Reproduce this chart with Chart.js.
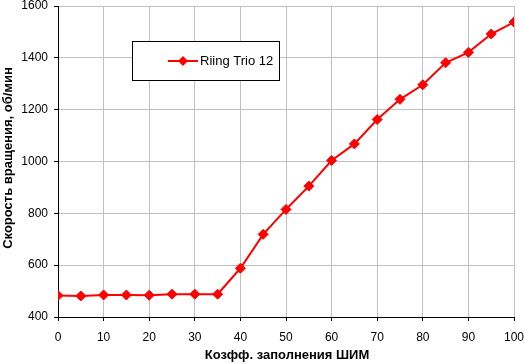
<!DOCTYPE html>
<html>
<head>
<meta charset="utf-8">
<script src="https://cdn.jsdelivr.net/npm/chart.js@4/dist/chart.umd.min.js"></script>
<style>
  html, body { margin: 0; padding: 0; background: #fff; }
  #wrap { width: 524px; height: 364px; }
</style>
</head>
<body>
<div id="wrap"><canvas id="c" width="524" height="364"></canvas></div>
<script>
// PWM duty (%) and fan speed (rpm)
const duty = [0, 5, 10, 15, 20, 25, 30, 35, 40, 45, 50, 55, 60, 65, 70, 75, 80, 85, 90, 95, 100];
const rpm = [483, 481, 485, 485, 484, 488, 488, 488, 588, 719, 815, 905, 1004, 1068, 1162, 1240, 1296, 1381, 1421, 1492, 1538];
const seriesName = "Riing Trio 12";
const xTitle = "Козфф. заполнения ШИМ";
const yTitle = "Скорость вращения, об/мин";

const red = "#ff0000";
const tickFont = { family: "Liberation Sans, Arial", size: 12 };

const points = duty.map((d, i) => ({ x: d, y: rpm[i] }));

// titles and the legend box are drawn by hand, like in the excel chart
const extras = {
  id: "extras",
  afterDraw(chart) {
    const ctx = chart.ctx;
    ctx.save();
    ctx.fillStyle = "#000";
    ctx.font = "bold 13px Liberation Sans, Arial";
    ctx.textAlign = "center";
    ctx.textBaseline = "alphabetic";
    ctx.fillText(xTitle, 287, 359);

    ctx.translate(12, 158);
    ctx.rotate(-Math.PI / 2);
    ctx.fillText(yTitle, 0, 0);
    ctx.restore();

    // legend
    ctx.save();
    ctx.fillStyle = "#fff";
    ctx.fillRect(132.5, 41.5, 147, 39);
    ctx.strokeStyle = "#000";
    ctx.lineWidth = 1;
    ctx.strokeRect(132.5, 41.5, 147, 39);
    ctx.strokeStyle = red;
    ctx.lineWidth = 2;
    ctx.beginPath();
    ctx.moveTo(168, 61);
    ctx.lineTo(198, 61);
    ctx.stroke();
    ctx.fillStyle = red;
    ctx.beginPath();
    ctx.moveTo(183, 56);
    ctx.lineTo(188, 61);
    ctx.lineTo(183, 66);
    ctx.lineTo(178, 61);
    ctx.closePath();
    ctx.fill();
    ctx.fillStyle = "#000";
    ctx.font = "13px Liberation Sans, Arial";
    ctx.textAlign = "left";
    ctx.textBaseline = "middle";
    ctx.fillText(seriesName, 200, 61);
    ctx.restore();
  },
};

new Chart(document.getElementById("c"), {
  type: "line",
  data: {
    datasets: [
      {
        label: seriesName,
        data: points,
        borderColor: red,
        backgroundColor: red,
        borderWidth: 2,
        pointStyle: "rectRot",
        pointRadius: 5,
        pointBorderWidth: 1,
        pointBorderColor: red,
        pointBackgroundColor: red,
        tension: 0,
      },
    ],
  },
  options: {
    responsive: false,
    animation: false,
    events: [],
    layout: { padding: { top: 5, right: 10, left: 0, bottom: 0 } },
    plugins: {
      legend: { display: false },
      tooltip: { enabled: false },
    },
    scales: {
      x: {
        type: "linear",
        min: 0,
        max: 100,
        ticks: { stepSize: 10, color: "#000", font: tickFont, padding: 9, maxRotation: 0, callback: (v) => String(v) },
        grid: { color: "#c0c0c0", tickColor: "#000", tickLength: 4, lineWidth: 1 },
        border: { color: "#000", width: 1 },
        afterFit(scale) {
          scale.height = 47;
          scale.paddingLeft = 0;
          scale.paddingRight = 0;
        },
      },
      y: {
        min: 400,
        max: 1600,
        ticks: { stepSize: 200, color: "#000", font: tickFont, padding: 6, callback: (v) => String(v) },
        grid: { color: "#c0c0c0", tickColor: "#000", tickLength: 4, lineWidth: 1 },
        border: { color: "#000", width: 1 },
        afterFit(scale) {
          scale.width = 58;
          scale.paddingTop = 0;
          scale.paddingBottom = 0;
        },
      },
    },
  },
  plugins: [extras],
});
</script>
</body>
</html>
